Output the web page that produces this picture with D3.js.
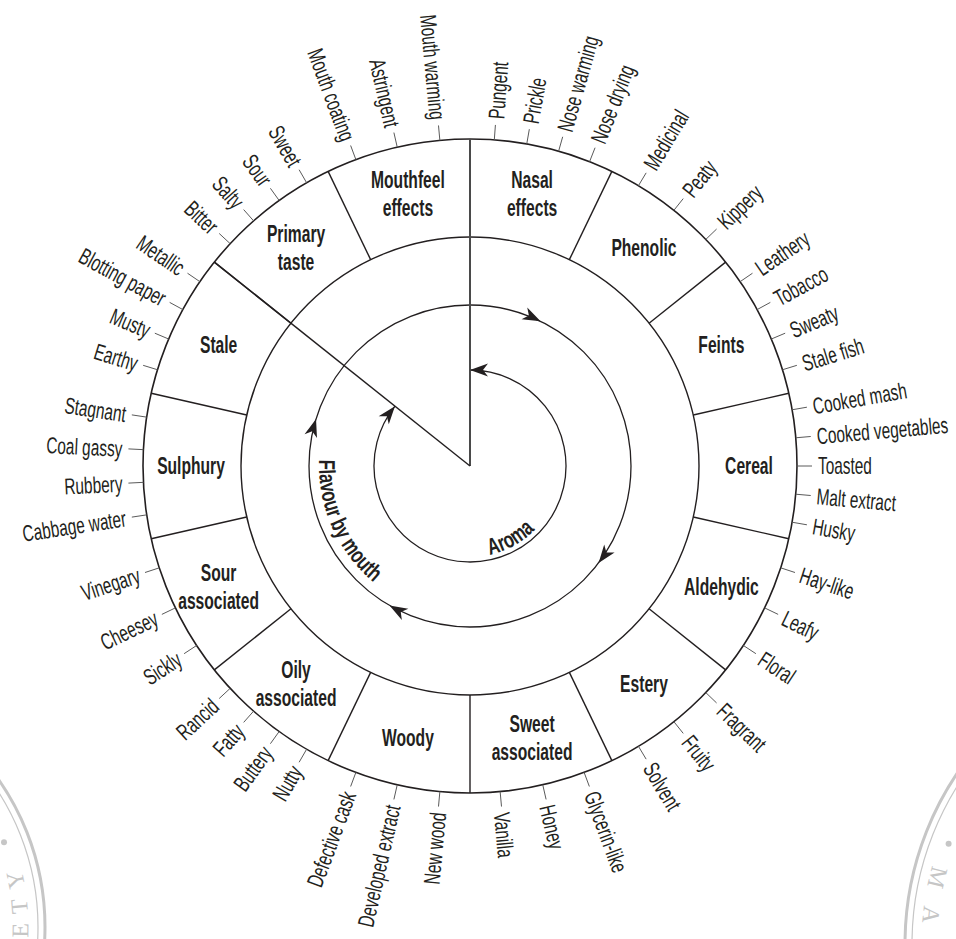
<!DOCTYPE html>
<html>
<head>
<meta charset="utf-8">
<script src="https://cdn.jsdelivr.net/npm/d3@7"></script>
<style>
  body { margin: 0; background: #fff; }
  svg { display: block; }
  text { font-family: "Liberation Sans", Arial, sans-serif; fill: #231f20; }
</style>
</head>
<body>
<div id="wheel"></div>
<script>
// whisky flavour wheel
// groups go clockwise starting at 12 o'clock

const categories = ["Nasal effects", "Phenolic", "Feints", "Cereal", "Aldehydic", "Estery",
  "Sweet associated", "Woody", "Oily associated", "Sour associated", "Sulphury", "Stale",
  "Primary taste", "Mouthfeel effects"]

// descriptors of each group, clockwise
const descriptors = [
  ["Pungent", "Prickle", "Nose warming", "Nose drying"],
  ["Medicinal", "Peaty", "Kippery"],
  ["Leathery", "Tobacco", "Sweaty", "Stale fish"],
  ["Cooked mash", "Cooked vegetables", "Toasted", "Malt extract", "Husky"],
  ["Hay-like", "Leafy", "Floral"],
  ["Fragrant", "Fruity", "Solvent"],
  ["Glycerin-like", "Honey", "Vanilla"],
  ["New wood", "Developed extract", "Defective cask"],
  ["Nutty", "Buttery", "Fatty", "Rancid"],
  ["Sickly", "Cheesey", "Vinegary"],
  ["Cabbage water", "Rubbery", "Coal gassy", "Stagnant"],
  ["Earthy", "Musty", "Blotting paper", "Metallic"],
  ["Bitter", "Salty", "Sour", "Sweet"],
  ["Mouth coating", "Astringent", "Mouth warming"]
]

// the two arrowed rings in the middle
const aromaLabel = "Aroma"
const aromaGroups = ["Nasal effects", "Stale"]   // first and last group the aroma ring spans
const flavourLabel = "Flavour by mouth"

// ---------- layout ----------
const width = 956, height = 939
const cx = 470, cy = 466
const rAroma = 96, rFlavour = 161, rInner = 229, rOuter = 327
const ink = "#231f20"
const sx = 0.67         // the original type is very condensed
// spacing (degrees) between descriptor ticks, by number of descriptors in the group
const step = { 3: 7.57, 4: 5.73, 5: 4.95 }

const svg = d3.select("#wheel")
  .append("svg")
  .attr("width", width)
  .attr("height", height)

// angle scale, degrees clockwise from north
const angle = d3.scaleLinear().domain([0, categories.length]).range([0, 360])
const rad = d => d * Math.PI / 180
function polar(r, a) {
  return [cx + r * Math.sin(rad(a)), cy - r * Math.cos(rad(a))]
}

// ---------- faint seals in the bottom corners ----------
function seal(sxc, syc, R, letters) {
  const g = svg.append("g").attr("fill", "none").attr("stroke", "#c6c6c6")
  g.append("circle").attr("cx", sxc).attr("cy", syc).attr("r", R).attr("stroke-width", 3)
  g.append("circle").attr("cx", sxc).attr("cy", syc).attr("r", R - 7).attr("stroke-width", 1.2)
  letters.forEach(([ch, phi]) => {
    const x = sxc + (R - 25) * Math.cos(rad(phi))
    const y = syc + (R - 25) * Math.sin(rad(phi))
    if (ch === "dot") {
      svg.append("circle").attr("cx", x).attr("cy", y).attr("r", 3).attr("fill", "#c6c6c6")
    } else {
      svg.append("text")
        .attr("transform", `translate(${x},${y}) rotate(${phi - 90})`)
        .attr("text-anchor", "middle")
        .attr("dy", "0.35em")
        .style("font-family", '"Liberation Serif", "DejaVu Serif", serif')
        .style("font-size", "24px")
        .style("fill", "#c6c6c6")
        .text(ch)
    }
  })
}
seal(-212, 927, 257, [["E", 0.8], ["T", -5.1], ["Y", -11.7], ["dot", -21.4]])
seal(1210, 944, 305, [["M", 193.7], ["A", 186], ["dot", 201]])

// ---------- rings ----------
const lines = svg.append("g").attr("fill", "none").attr("stroke", ink)

lines.append("circle").attr("cx", cx).attr("cy", cy).attr("r", rOuter).attr("stroke-width", 1.6)
lines.append("circle").attr("cx", cx).attr("cy", cy).attr("r", rInner).attr("stroke-width", 1.4)
lines.append("circle").attr("cx", cx).attr("cy", cy).attr("r", rFlavour).attr("stroke-width", 1.3)

// aroma arc goes clockwise from the start of the first group to the end of the last
const aStart = angle(categories.indexOf(aromaGroups[0]))
const aEnd = angle(categories.indexOf(aromaGroups[1]) + 1)
const p = d3.path()
const s0 = polar(rAroma, aStart)
p.moveTo(s0[0], s0[1])
p.arc(cx, cy, rAroma, rad(aStart - 90), rad(aEnd - 90))
lines.append("path").attr("d", p.toString()).attr("stroke-width", 1.3)

// sector dividers in the outer ring
categories.forEach((c, i) => {
  const a = angle(i)
  const [x1, y1] = polar(rInner, a)
  const [x2, y2] = polar(rOuter, a)
  lines.append("line").attr("x1", x1).attr("y1", y1).attr("x2", x2).attr("y2", y2)
    .attr("stroke-width", 1.4)
})

// the two radii from the centre that split aroma from flavour by mouth
const [vx, vy] = polar(rOuter, aStart)
lines.append("line").attr("x1", cx).attr("y1", cy).attr("x2", vx).attr("y2", vy)
  .attr("stroke", "#4a4a4a").attr("stroke-width", 2)
const [dx, dy] = polar(rOuter, aEnd)
lines.append("line").attr("x1", cx).attr("y1", cy).attr("x2", dx).attr("y2", dy)
  .attr("stroke-width", 1.4)

// ---------- arrowheads ----------
const head = "M0,0 L-18,-6.5 L-13,0 L-18,6.5 Z"
function arrow(r, a, clockwise) {
  const [x, y] = polar(r, a)
  svg.append("path")
    .attr("d", head)
    .attr("fill", ink)
    .attr("transform", `translate(${x},${y}) rotate(${clockwise ? a : a + 180})`)
}
arrow(rAroma, aStart, false)
arrow(rAroma, aEnd, true)
;[26, 127, 210, 287].forEach(a => arrow(rFlavour, a, true))

// ---------- group labels ----------
categories.forEach((c, i) => {
  const [x, y] = polar(279, angle(i + 0.5))
  const words = c.split(" ")
  const t = svg.append("text")
    .attr("transform", `translate(${x},${y}) scale(0.68,1)`)
    .attr("text-anchor", "middle")
    .style("font-size", "23px")
    .style("font-weight", "bold")
  words.forEach((w, k) => {
    t.append("tspan")
      .attr("x", 0)
      .attr("y", (k - (words.length - 1) / 2) * 28)
      .attr("dy", "0.36em")
      .text(w)
  })
})

// ---------- descriptors with ticks ----------
descriptors.forEach((list, i) => {
  const mid = angle(i + 0.5)
  const n = list.length
  list.forEach((name, j) => {
    const a = mid + (j - (n - 1) / 2) * step[n]
    const [x1, y1] = polar(rOuter, a)
    const [x2, y2] = polar(rOuter + 15, a)
    svg.append("line")
      .attr("x1", x1).attr("y1", y1).attr("x2", x2).attr("y2", y2)
      .attr("stroke", "#5a5a5a").attr("stroke-width", 1)

    const [tx, ty] = polar(rOuter + 21, a)
    const right = a < 180
    svg.append("text")
      .attr("transform", `translate(${tx},${ty}) rotate(${right ? a - 90 : a - 270}) scale(${sx},1)`)
      .attr("text-anchor", right ? "start" : "end")
      .attr("dy", "0.36em")
      .style("font-size", "23px")
      .text(name)
  })
})

// ---------- curved labels on the arrowed rings ----------
// letters are set one by one along the circle, reading anticlockwise
function arcText(str, r, mid, size, squeeze) {
  const probe = svg.append("text")
    .style("font-size", size + "px")
    .style("font-weight", "bold")
    .style("white-space", "pre")
    .text(str)
  const node = probe.node()
  const w = d3.range(str.length).map(i => node.getSubStringLength(i, 1) * squeeze)
  probe.remove()

  const total = d3.sum(w)
  const a0 = mid + (total / 2) / r * 180 / Math.PI
  let off = 0
  str.split("").forEach((ch, i) => {
    const c = off + w[i] / 2
    off += w[i]
    if (ch === " ") return
    const a = a0 - c / r * 180 / Math.PI
    const [x, y] = polar(r, a)
    svg.append("text")
      .attr("transform", `translate(${x},${y}) rotate(${a + 180}) scale(${squeeze},1)`)
      .attr("text-anchor", "middle")
      .style("font-size", size + "px")
      .style("font-weight", "bold")
      .text(ch)
  })
}
arcText(flavourLabel, rFlavour - 10, 246, 23, 0.72)
arcText(aromaLabel, rAroma - 5, 151, 23, 0.72)
</script>
</body>
</html>
